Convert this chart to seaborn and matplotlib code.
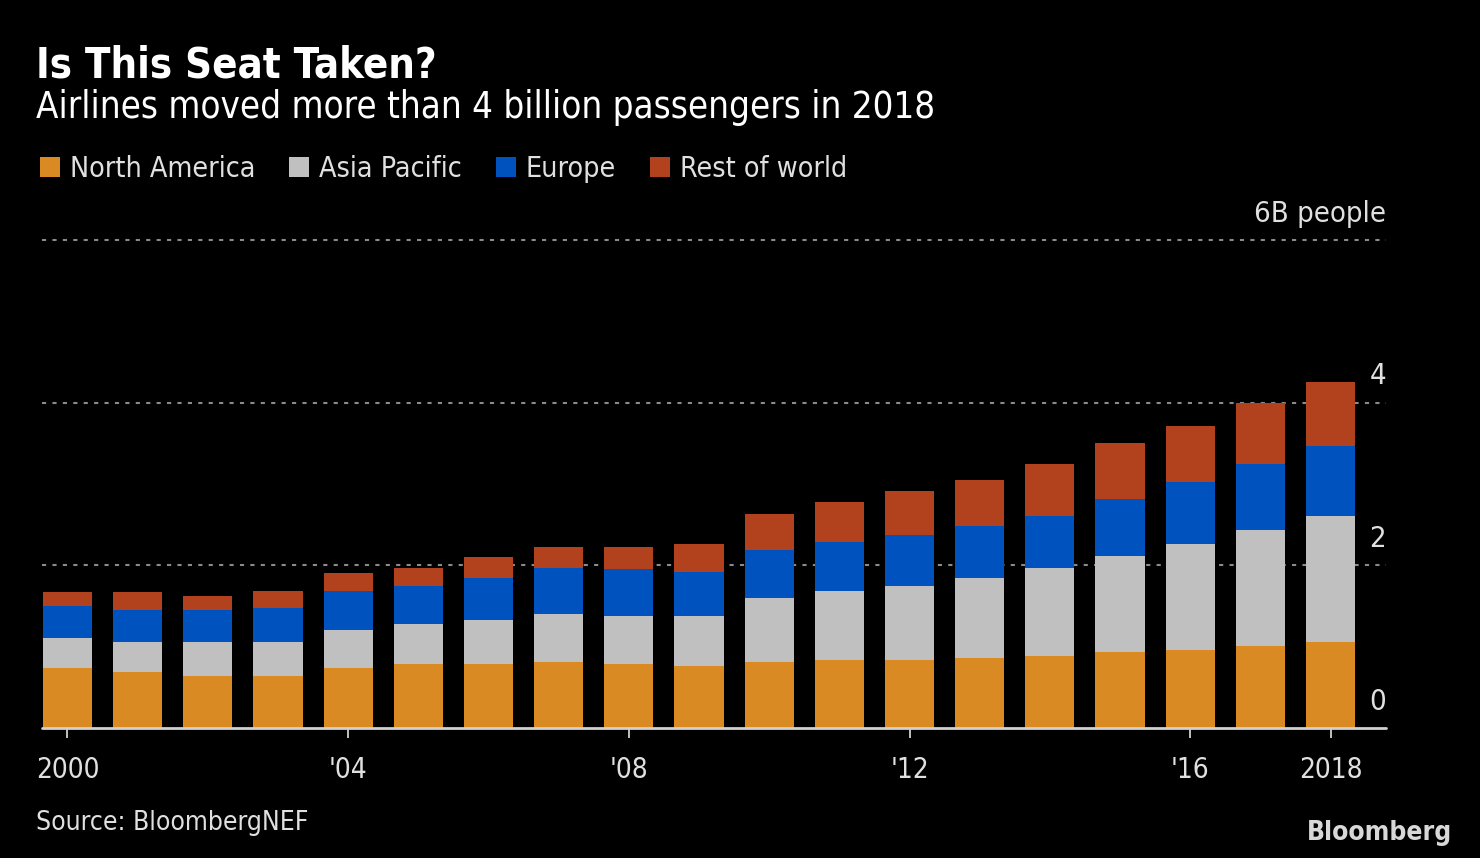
import pandas as pd
import matplotlib.pyplot as plt
import seaborn as sns
from matplotlib.patches import Patch

years = [str(y) for y in range(2000, 2019)]
north_america = [0.74, 0.69, 0.64, 0.64, 0.74, 0.79, 0.79, 0.81, 0.79, 0.76,
                 0.81, 0.84, 0.84, 0.86, 0.89, 0.94, 0.96, 1.01, 1.06]
asia_pacific = [0.37, 0.37, 0.42, 0.42, 0.47, 0.49, 0.54, 0.59, 0.59, 0.62,
                0.79, 0.84, 0.91, 0.98, 1.08, 1.18, 1.30, 1.43, 1.55]
europe = [0.39, 0.39, 0.39, 0.42, 0.47, 0.47, 0.52, 0.57, 0.57, 0.54,
          0.59, 0.61, 0.62, 0.64, 0.64, 0.69, 0.76, 0.81, 0.86]
rest_of_world = [0.17, 0.22, 0.17, 0.20, 0.22, 0.22, 0.25, 0.25, 0.27, 0.34,
                 0.44, 0.49, 0.54, 0.57, 0.64, 0.69, 0.69, 0.74, 0.79]
series_names = ["North America", "Asia Pacific", "Europe", "Rest of world"]
tick_pos = [0, 4, 8, 12, 16, 18]
tick_labels = ["2000", "'04", "'08", "'12", "'16", "2018"]
colors = ["#D98A23", "#C0C0C0", "#0052BE", "#B2411E"]

df = pd.DataFrame({"year": years, "North America": north_america,
                   "Asia Pacific": asia_pacific, "Europe": europe,
                   "Rest of world": rest_of_world})
cum = df[series_names].cumsum(axis=1)
cum["year"] = df["year"]

sns.set_style("dark")
plt.rcParams["font.family"] = ["DejaVu Sans"]
plt.rcParams["font.stretch"] = "condensed"

W, H = 1480, 858
fig = plt.figure(figsize=(W / 100, H / 100), dpi=100, facecolor="black")
ax = fig.add_axes([42 / W, 1 - 728 / H, (1386 - 42) / W, (728 - 240) / H])
ax.set_facecolor("black")

# overlay cumulative totals, tallest first -> stacked look
for name, col in reversed(list(zip(series_names, colors))):
    sns.barplot(data=cum, x="year", y=name, color=col, saturation=1,
                width=0.7, linewidth=0, ax=ax, zorder=3)

ax.set_xlim(-0.363, 18.79)
ax.set_ylim(0, 6)
for s in ax.spines.values():
    s.set_visible(False)
ax.grid(False)
for v in [2, 4, 6]:
    ax.axhline(v, color="#8a8a8a", lw=1.5, ls=(0, (2, 3)), zorder=1, clip_on=False)
ax.axhline(0, color="#d0d0d0", lw=2, zorder=4, clip_on=False)

ax.set_yticks([])
ax.set_xticks(tick_pos)
ax.set_xticklabels(tick_labels, fontsize=20, color="#e0e0e0")
ax.tick_params(axis="x", length=7, width=1.3, color="#d0d0d0", pad=13, bottom=True)
ax.set_xlabel("")
ax.set_ylabel("")

for v, lab in [(0, "0"), (2, "2"), (4, "4"), (6, "6B people")]:
    ax.annotate(lab, xy=(1.0, v), xycoords=ax.get_yaxis_transform(),
                xytext=(0, 9), textcoords="offset points",
                ha="right", va="bottom", fontsize=21, color="#e0e0e0")

fig.text(36 / W, 1 - 77 / H, "Is This Seat Taken?", fontsize=30,
         fontweight="bold", color="white", va="baseline")
fig.text(36 / W, 1 - 118 / H, "Airlines moved more than 4 billion passengers in 2018",
         fontsize=26.3, color="white", va="baseline")

handles = [Patch(facecolor=c, edgecolor="none") for c in colors]
fig.legend(handles, series_names, loc="upper left",
           bbox_to_anchor=(14 / W, 1 - 129 / H), ncol=4, frameon=False,
           fontsize=20.5, labelcolor="#e0e0e0", handlelength=0.7, handleheight=0.7,
           handletextpad=0.35, columnspacing=1.2)

fig.text(36 / W, 1 - 830 / H, "Source: BloombergNEF", fontsize=19,
         color="#e0e0e0", va="baseline")
fig.text(1452 / W, 1 - 840 / H, "Bloomberg", fontsize=19, fontweight="bold",
         color="#d8d8d8", ha="right", va="baseline")

fig.savefig("out.png", dpi=100, facecolor="black")
